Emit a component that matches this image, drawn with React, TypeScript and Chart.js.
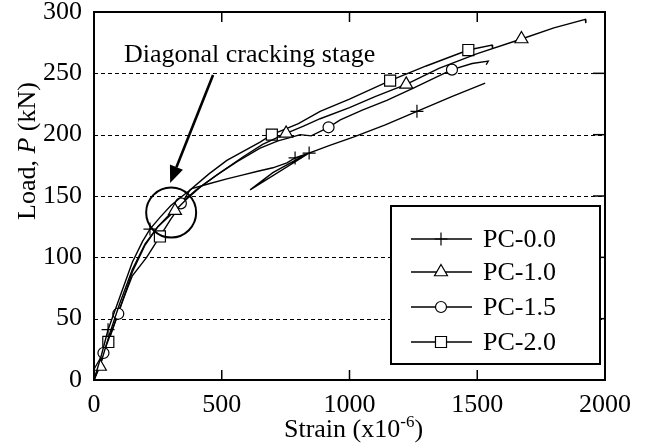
import React, { useEffect, useRef } from "react";
import { Chart, registerables } from "chart.js";

Chart.register(...registerables);

// ---------- data ----------
const xTicks = [0, 500, 1000, 1500, 2000];
const yTicks = [0, 50, 100, 150, 200, 250, 300];
const seriesNames = ["PC-0.0", "PC-1.0", "PC-1.5", "PC-2.0"];

const pc00Strain = [0, 30, 55, 100, 150, 190, 219, 260, 300, 340, 383, 450, 520, 580, 637, 700, 755, 787, 842, 611, 700, 787, 842, 920, 1015, 1140, 1264, 1400, 1531];
const pc00Load = [0, 21, 41, 67, 96, 113, 123, 133, 142, 149, 156, 160, 164, 167, 170, 173, 177, 181, 185, 155, 169, 179, 185, 191, 198, 208, 219, 231, 242];
const pc00Marks = [2, 6, 17, 18, 26];

const pc10Strain = [0, 23, 60, 100, 150, 200, 250, 317, 360, 420, 500, 584, 660, 752, 820, 885, 1000, 1100, 1222, 1350, 1500, 1673, 1800, 1923, 1925];
const pc10Load = [0, 11, 37, 62, 90, 111, 125, 138, 147, 158, 170, 182, 192, 201, 207, 213, 222, 231, 241, 254, 266, 278, 287, 294, 291];
const pc10Marks = [1, 7, 13, 18, 21];

const pc15Strain = [0, 37, 95, 150, 200, 250, 300, 340, 400, 480, 560, 650, 720, 774, 807, 850, 918, 964, 1050, 1146, 1250, 1401, 1480, 1543, 1535];
const pc15Load = [0, 22, 54, 88, 110, 125, 136, 144, 155, 167, 178, 189, 195, 198, 200, 199, 206, 212, 220, 228, 238, 253, 258, 260, 257];
const pc15Marks = [1, 2, 7, 16, 21];

const pc20Strain = [0, 30, 56, 100, 150, 206, 258, 300, 340, 376, 450, 520, 650, 696, 800, 885, 1000, 1159, 1300, 1465, 1558, 1560];
const pc20Load = [0, 16, 31, 58, 85, 100, 117, 131, 143, 155, 168, 179, 194, 200, 209, 219, 229, 244, 256, 269, 273, 270];
const pc20Marks = [2, 6, 13, 17, 19];

// annotation anchors (data units)
const crackCircle = { strain: 302, load: 136.5 };
const arrowTail = { strain: 466, load: 248.6 };
const arrowTip = { strain: 298, load: 160.6 };
const annotationText = "Diagonal cracking stage";
const annotationAt = { strain: 609, load: 259.5 };

const FONT = '"Liberation Serif", "Times New Roman", Times, serif';

type Style = "cross" | "triangle" | "circle" | "rect";
const series: { name: string; strain: number[]; load: number[]; marks: number[]; style: Style; r: number }[] = [
  { name: seriesNames[0], strain: pc00Strain, load: pc00Load, marks: pc00Marks, style: "cross", r: 6.5 },
  { name: seriesNames[1], strain: pc10Strain, load: pc10Load, marks: pc10Marks, style: "triangle", r: 7.5 },
  { name: seriesNames[2], strain: pc15Strain, load: pc15Load, marks: pc15Marks, style: "circle", r: 5.5 },
  { name: seriesNames[3], strain: pc20Strain, load: pc20Load, marks: pc20Marks, style: "rect", r: 7.8 },
];

function drawMarker(ctx: CanvasRenderingContext2D, style: Style, x: number, y: number, r: number) {
  ctx.save();
  ctx.beginPath();
  ctx.lineWidth = 1.2;
  ctx.strokeStyle = "#000";
  ctx.fillStyle = "#fff";
  if (style === "cross") {
    ctx.moveTo(x - r, y);
    ctx.lineTo(x + r, y);
    ctx.moveTo(x, y - r);
    ctx.lineTo(x, y + r);
    ctx.stroke();
  } else if (style === "triangle") {
    ctx.moveTo(x, y - r);
    ctx.lineTo(x + 0.866 * r, y + 0.5 * r);
    ctx.lineTo(x - 0.866 * r, y + 0.5 * r);
    ctx.closePath();
    ctx.fill();
    ctx.stroke();
  } else if (style === "circle") {
    ctx.arc(x, y, r, 0, Math.PI * 2);
    ctx.fill();
    ctx.stroke();
  } else {
    const s = Math.SQRT1_2 * r;
    ctx.rect(x - s, y - s, 2 * s, 2 * s);
    ctx.fill();
    ctx.stroke();
  }
  ctx.restore();
}

const decorPlugin = {
  id: "decor",
  beforeDatasetsDraw(chart: any) {
    const { ctx, chartArea: a, scales } = chart;
    ctx.save();
    ctx.strokeStyle = "#000";
    ctx.lineWidth = 1;
    ctx.setLineDash([4, 3]);
    for (const v of yTicks) {
      if (v === yTicks[0] || v === yTicks[yTicks.length - 1]) continue;
      const y = Math.round(scales.y.getPixelForValue(v)) + 0.5;
      ctx.beginPath();
      ctx.moveTo(a.left, y);
      ctx.lineTo(a.right, y);
      ctx.stroke();
    }
    ctx.restore();
  },
  afterDatasetsDraw(chart: any) {
    const { ctx, chartArea: a, scales } = chart;
    const xs = scales.x;
    const ys = scales.y;
    ctx.save();
    // frame
    ctx.strokeStyle = "#000";
    ctx.lineWidth = 2;
    ctx.strokeRect(a.left, a.top, a.right - a.left, a.bottom - a.top);
    // inner ticks
    ctx.lineWidth = 1.5;
    const tl = 10;
    for (const v of xTicks.slice(1, -1)) {
      const x = xs.getPixelForValue(v);
      ctx.beginPath();
      ctx.moveTo(x, a.bottom);
      ctx.lineTo(x, a.bottom - tl);
      ctx.moveTo(x, a.top);
      ctx.lineTo(x, a.top + tl);
      ctx.stroke();
    }
    for (const v of yTicks.slice(1, -1)) {
      const y = ys.getPixelForValue(v);
      ctx.beginPath();
      ctx.moveTo(a.right, y);
      ctx.lineTo(a.right - 12, y);
      ctx.stroke();
    }

    // annotation
    const cx = xs.getPixelForValue(crackCircle.strain);
    const cy = ys.getPixelForValue(crackCircle.load);
    ctx.lineWidth = 2;
    ctx.beginPath();
    ctx.arc(cx, cy, 25, 0, Math.PI * 2);
    ctx.stroke();

    const tx = xs.getPixelForValue(arrowTail.strain);
    const ty = ys.getPixelForValue(arrowTail.load);
    const hx = xs.getPixelForValue(arrowTip.strain);
    const hy = ys.getPixelForValue(arrowTip.load);
    const ang = Math.atan2(hy - ty, hx - tx);
    const headLen = 17;
    const headHalf = 7;
    const bx = hx - Math.cos(ang) * headLen;
    const by = hy - Math.sin(ang) * headLen;
    ctx.lineWidth = 2.6;
    ctx.beginPath();
    ctx.moveTo(tx, ty);
    ctx.lineTo(bx, by);
    ctx.stroke();
    ctx.fillStyle = "#000";
    ctx.beginPath();
    ctx.moveTo(hx, hy);
    ctx.lineTo(bx + Math.sin(ang) * headHalf, by - Math.cos(ang) * headHalf);
    ctx.lineTo(bx - Math.sin(ang) * headHalf, by + Math.cos(ang) * headHalf);
    ctx.closePath();
    ctx.fill();

    ctx.font = `26px ${FONT}`;
    ctx.textAlign = "center";
    ctx.textBaseline = "alphabetic";
    ctx.fillText(annotationText, xs.getPixelForValue(annotationAt.strain), ys.getPixelForValue(annotationAt.load));

    // legend box
    const lx0 = 391, ly0 = 206, lx1 = 600, ly1 = 364;
    ctx.fillStyle = "#fff";
    ctx.fillRect(lx0, ly0, lx1 - lx0, ly1 - ly0);
    ctx.lineWidth = 2;
    ctx.strokeStyle = "#000";
    ctx.strokeRect(lx0, ly0, lx1 - lx0, ly1 - ly0);
    const rows = [239, 272, 307, 342];
    ctx.font = `26px ${FONT}`;
    ctx.textAlign = "left";
    ctx.textBaseline = "middle";
    series.forEach((s, i) => {
      const y = rows[i];
      ctx.lineWidth = 1.4;
      ctx.beginPath();
      ctx.moveTo(411, y);
      ctx.lineTo(472, y);
      ctx.stroke();
      drawMarker(ctx, s.style, 441, y, s.r);
      ctx.fillStyle = "#000";
      ctx.fillText(s.name, 483, y + 1);
    });

    // y title
    ctx.save();
    ctx.translate(35, 151);
    ctx.rotate(-Math.PI / 2);
    ctx.textAlign = "left";
    ctx.textBaseline = "alphabetic";
    const n = `26px ${FONT}`;
    const it = `italic 26px ${FONT}`;
    const parts: [string, string][] = [["Load, ", n], ["P", it], [" (kN)", n]];
    let total = 0;
    for (const [t, f] of parts) { ctx.font = f; total += ctx.measureText(t).width; }
    let px = -total / 2;
    for (const [t, f] of parts) { ctx.font = f; ctx.fillText(t, px, 0); px += ctx.measureText(t).width; }
    ctx.restore();

    // x title
    ctx.textAlign = "left";
    ctx.textBaseline = "alphabetic";
    const xp: [string, string, number][] = [["Strain (x10", `26px ${FONT}`, 0], ["-6", `17px ${FONT}`, -10], [")", `26px ${FONT}`, 0]];
    let tw = 0;
    for (const [t, f] of xp) { ctx.font = f; tw += ctx.measureText(t).width; }
    let qx = (a.left + a.right) / 2 + 4 - tw / 2;
    for (const [t, f, dy] of xp) { ctx.font = f; ctx.fillText(t, qx, 437 + dy); qx += ctx.measureText(t).width; }

    ctx.restore();
  },
};

export default function App() {
  const ref = useRef<HTMLCanvasElement | null>(null);
  useEffect(() => {
    document.body.style.margin = "0";
    const canvas = ref.current!;
    const chart = new Chart(canvas, {
      type: "scatter",
      data: {
        datasets: series.map((s) => ({
          label: s.name,
          data: s.strain.map((x, i) => ({ x, y: s.load[i] })),
          showLine: true,
          borderColor: "#000",
          borderWidth: 1.4,
          tension: 0,
          pointStyle: s.style,
          pointRadius: (c: any) => (s.marks.includes(c.dataIndex) ? s.r : 0),
          pointHoverRadius: 0,
          pointBackgroundColor: "#fff",
          pointBorderColor: "#000",
          pointBorderWidth: 1.2,
        })),
      },
      options: {
        animation: false,
        responsive: false,
        maintainAspectRatio: false,
        events: [],
        layout: { padding: { top: 12, right: 43, left: 0, bottom: 0 } },
        plugins: { legend: { display: false }, tooltip: { enabled: false } },
        scales: {
          x: {
            type: "linear",
            min: 0,
            max: 2000,
            afterBuildTicks: (sc: any) => { sc.ticks = xTicks.map((v) => ({ value: v })); },
            afterFit: (sc: any) => { sc.height = 63; sc.paddingLeft = 0; sc.paddingRight = 0; },
            grid: { display: false },
            border: { display: false },
            ticks: { font: { family: FONT, size: 26 }, color: "#000", padding: 2, maxRotation: 0, autoSkip: false, callback: (v: any) => String(v) },
          },
          y: {
            type: "linear",
            min: 0,
            max: 300,
            afterBuildTicks: (sc: any) => { sc.ticks = yTicks.map((v) => ({ value: v })); },
            afterFit: (sc: any) => { sc.width = 94; sc.paddingTop = 0; sc.paddingBottom = 0; },
            grid: { display: false },
            border: { display: false },
            ticks: { font: { family: FONT, size: 26 }, color: "#000", padding: 4, autoSkip: false, callback: (v: any) => String(v) },
          },
        },
      },
      plugins: [decorPlugin],
    } as any);
    return () => chart.destroy();
  }, []);
  return (
    <div style={{ width: 648, height: 443, background: "#fff" }}>
      <canvas ref={ref} width={648} height={443} style={{ display: "block" }} />
    </div>
  );
}
